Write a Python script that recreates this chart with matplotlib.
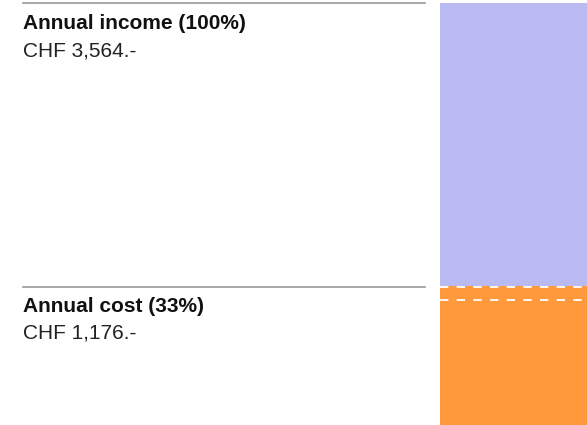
import matplotlib
matplotlib.use("Agg")
import matplotlib.pyplot as plt
from matplotlib.transforms import blended_transform_factory
from matplotlib.lines import Line2D

labels = ["Annual income (100%)", "Annual cost (33%)"]
amounts = ["CHF 3,564.-", "CHF 1,176.-"]
values = [3564, 1176]
colors = ["#babaf2", "#ff993b"]

W, H = 587, 425
fig = plt.figure(figsize=(W / 100, H / 100), dpi=100)
plt.rcParams['font.family'] = ['Liberation Sans', 'DejaVu Sans']

ax = fig.add_axes([440 / W, 0, 1 - 440 / W, (H - 3) / H])
ax.set_xlim(0, 1)
ax.set_ylim(0, values[0])
ax.axis('off')
for v, c in zip(values, colors):
    ax.bar(0.5, v, width=1.0, color=c, linewidth=0)

# dashed separators
px = values[0] / (H - 3)
ax.axhline(values[1] - 1.5 * px, color='white', linestyle=(0, (4, 4)), linewidth=1.5, alpha=0.9)
ax.axhline(values[1] - 14.5 * px, color='white', linestyle=(0, (4, 4)), linewidth=1.5, alpha=0.9)

tr = blended_transform_factory(fig.transFigure, ax.transData)
for lab, amt, v in zip(labels, amounts, values):
    line = Line2D([23 / W, 425 / W], [v - 1.5 * px * (v != values[0]), v - 1.5 * px * (v != values[0])],
                  transform=tr, color='#999999', linewidth=1.2, clip_on=False)
    fig.add_artist(line)
    ax.annotate(lab, xy=(23 / W, v), xycoords=tr, xytext=(0, -8), textcoords='offset points',
                fontsize=15, fontweight='bold', color='#111111', va='top', ha='left', annotation_clip=False)
    ax.annotate(amt, xy=(23 / W, v), xycoords=tr, xytext=(0, -27.5), textcoords='offset points',
                fontsize=15, color='#222222', va='top', ha='left', annotation_clip=False)

fig.savefig("out.png", dpi=100)
